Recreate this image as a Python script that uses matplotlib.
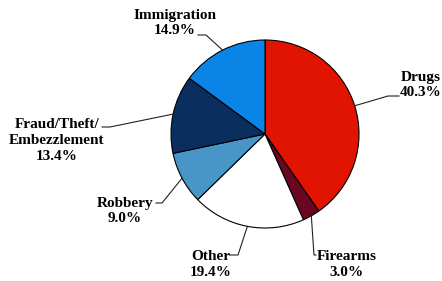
import numpy as np
import matplotlib.pyplot as plt

# data (clockwise from 12 o'clock)
categories = ["Drugs", "Firearms", "Other", "Robbery", "Fraud/Theft/\nEmbezzlement", "Immigration"]
shares = [40.3, 3.0, 19.4, 9.0, 13.4, 14.9]
colors = ["#E01400", "#6A0522", "#FFFFFF", "#4896C8", "#0A2F5E", "#0A84E6"]

W, H = 442, 281
cx, cy, r = 265, H - 134, 94

# label layout in pixel coords (y down): text centre, elbow, tick end
layout = {
    "Drugs":       dict(text=(421, 85), pts=[(388, 96), (399, 96)]),
    "Firearms":    dict(text=(347, 264), pts=[(314, 255), (316, 255)]),
    "Other":       dict(text=(211, 264), pts=[(238, 255), (230, 255)]),
    "Robbery":     dict(text=(125, 211), pts=[(162, 203), (156, 203)]),
    "Fraud/Theft/\nEmbezzlement": dict(text=(57, 141), pts=[(110, 127), (102, 127)]),
    "Immigration": dict(text=(175, 23), pts=[(206, 35), (198, 35)]),
}

plt.rcParams["font.family"] = ["Liberation Serif", "DejaVu Serif"]

fig = plt.figure(figsize=(W / 100, H / 100), dpi=100)
ax = fig.add_axes([0, 0, 1, 1])

wedges, _ = ax.pie(shares, colors=colors, startangle=90, counterclock=False,
                   center=(cx, cy), radius=r,
                   wedgeprops=dict(edgecolor="black", linewidth=0.8))

for w, name, val in zip(wedges, categories, shares):
    mid = np.deg2rad((w.theta1 + w.theta2) / 2)
    ax_x = cx + r * np.cos(mid)
    ax_y = cy + r * np.sin(mid)
    lay = layout[name]
    xs = [ax_x] + [p[0] for p in lay["pts"]]
    ys = [ax_y] + [H - p[1] for p in lay["pts"]]
    ax.plot(xs, ys, color="#222222", linewidth=0.8)
    tx, ty = lay["text"]
    ax.text(tx, H - ty, f"{name}\n{val:.1f}%", ha="center", va="center",
            multialignment="center", fontsize=11, fontweight="bold",
            linespacing=1.3)

ax.set_xlim(0, W)
ax.set_ylim(0, H)
ax.set_aspect("equal")
ax.axis("off")

fig.savefig("out.png", dpi=100)
